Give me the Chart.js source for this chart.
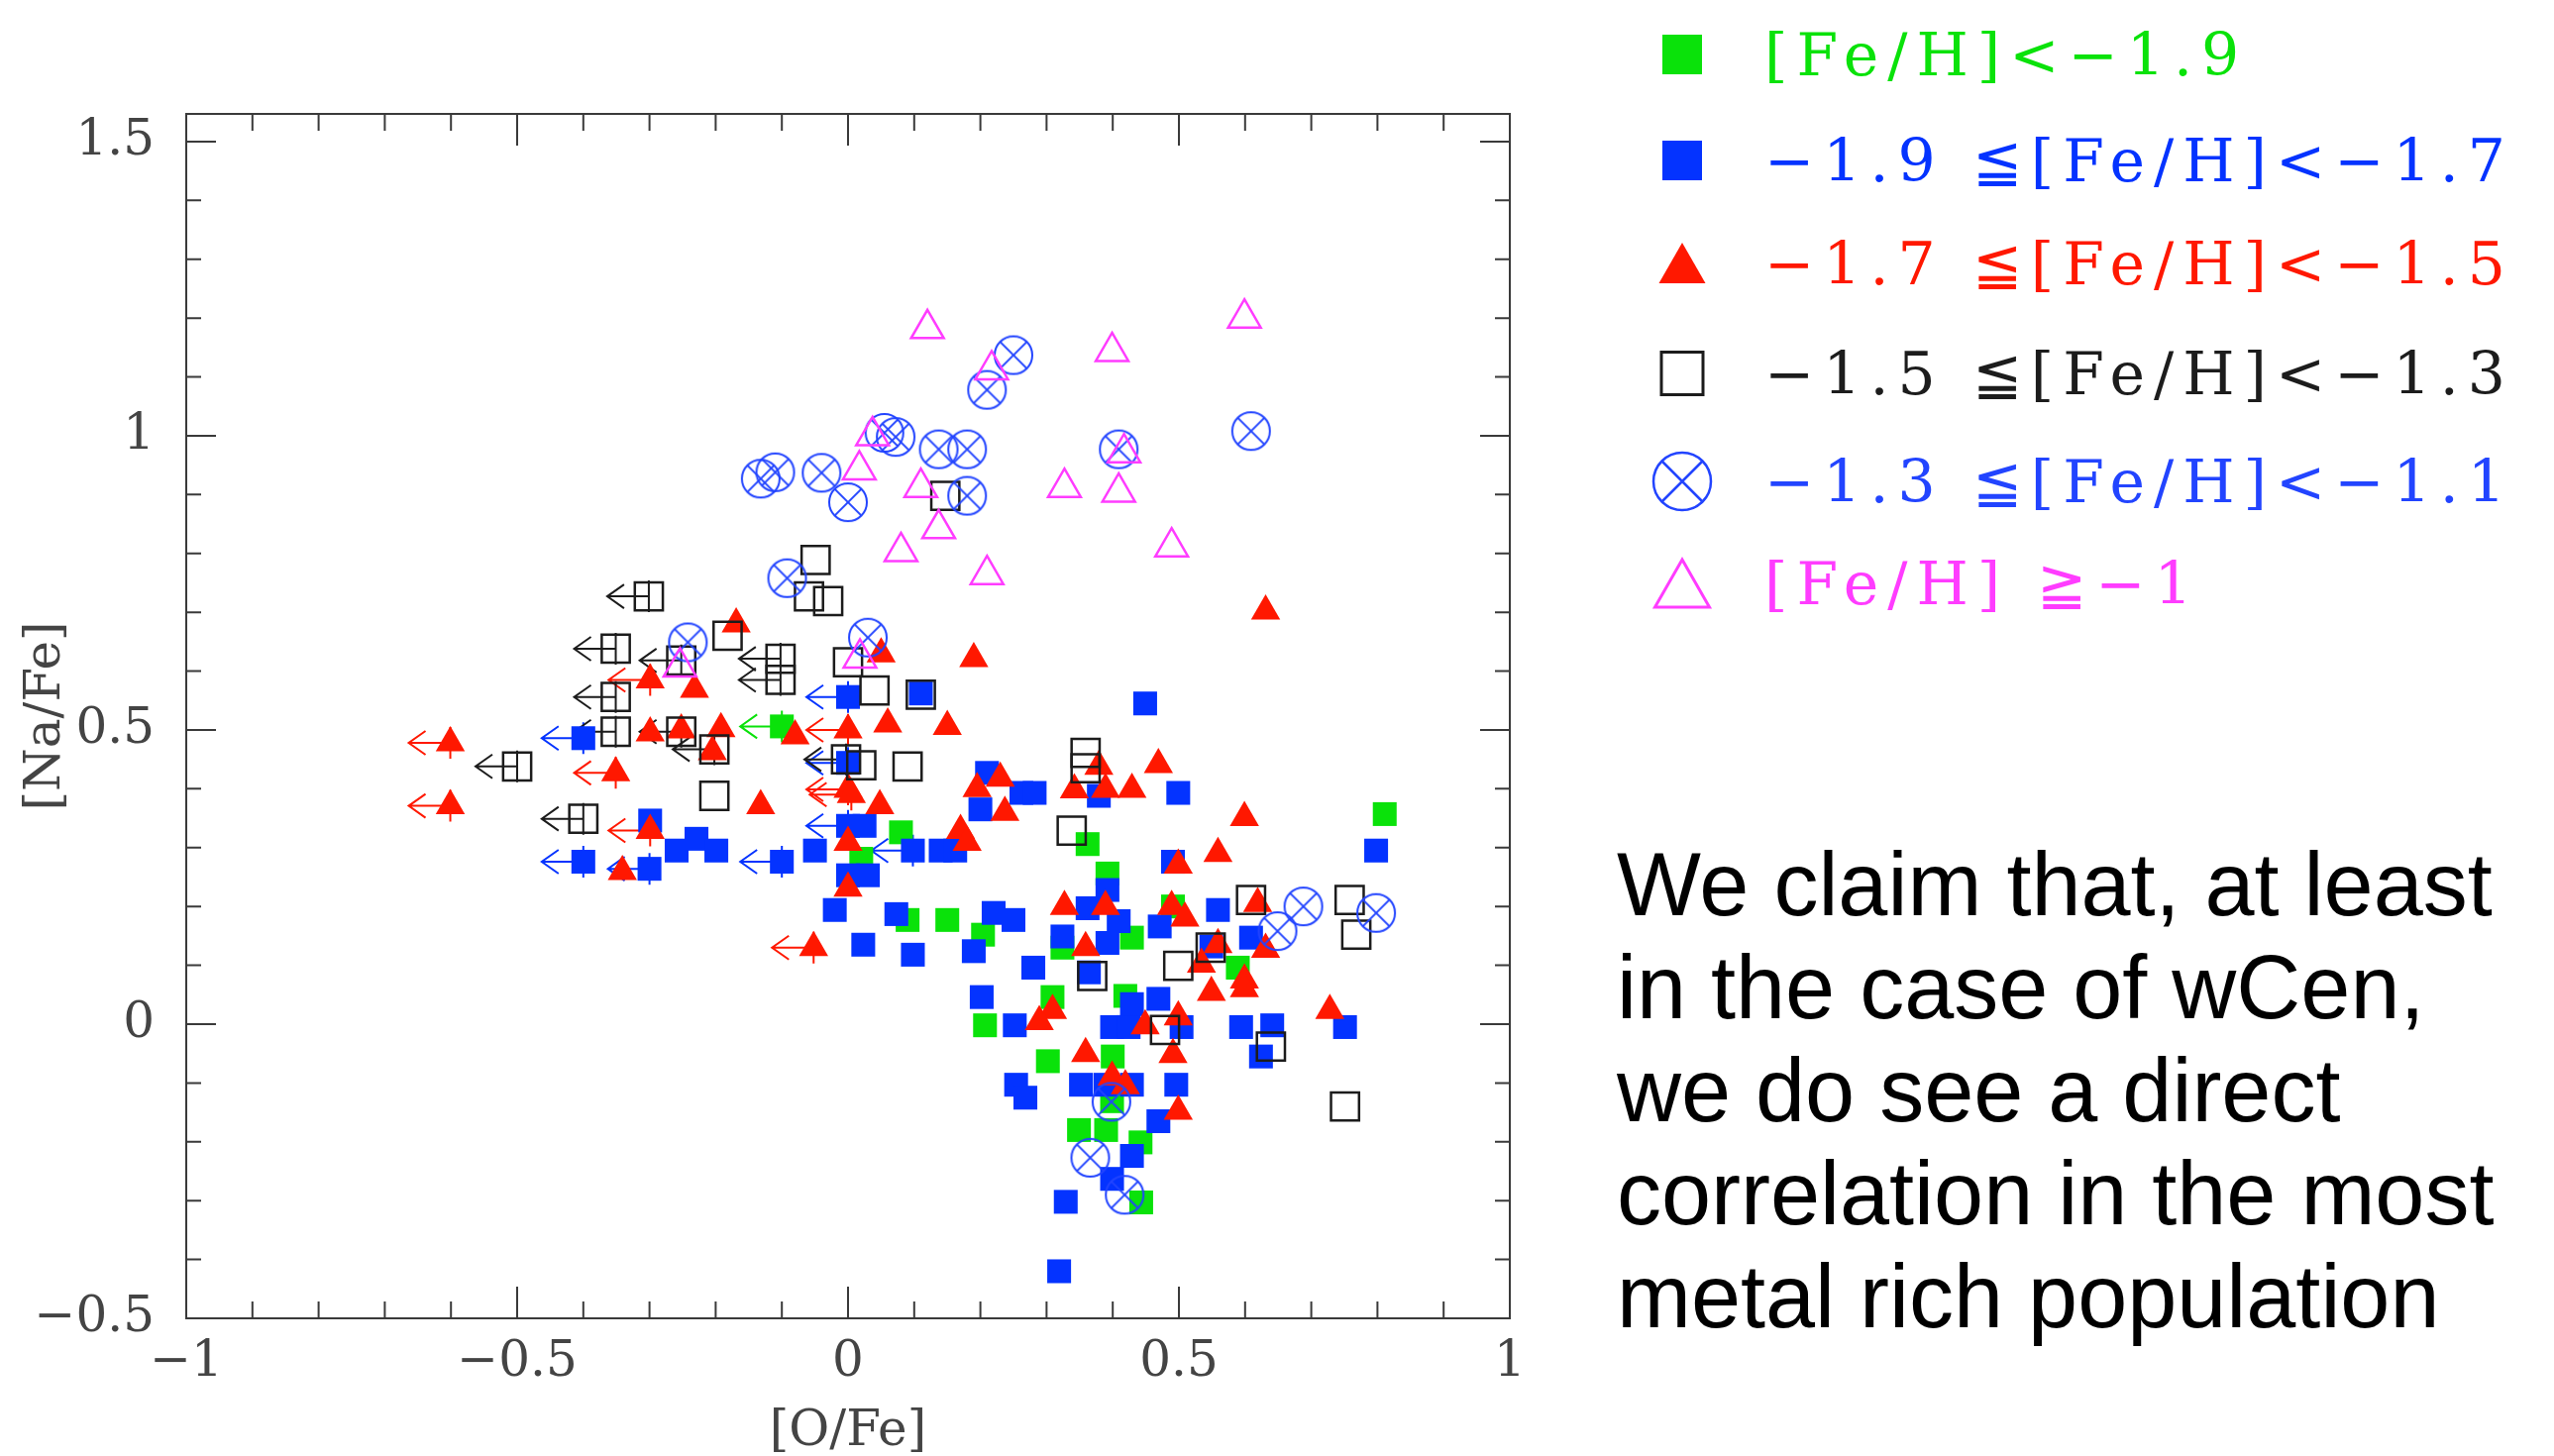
<!DOCTYPE html>
<html>
<head>
<meta charset="utf-8">
<title>[Na/Fe] vs [O/Fe] in wCen</title>
<script src="https://cdn.jsdelivr.net/npm/chart.js@4.4.1/dist/chart.umd.min.js"></script>
<style>
  html, body { margin: 0; padding: 0; background: #fff; }
  body { width: 2578px; height: 1470px; position: relative; overflow: hidden; }
  #plot { position: absolute; left: 0; top: 0; }
  .key { position: absolute; left: 1648px; height: 0; display: flex; align-items: center; }
  .key svg { width: 100px; height: 70px; flex: none; }
  .key span { margin-left: 33px; font-family: "DejaVu Serif", serif; font-size: 60px; letter-spacing: 9px; white-space: nowrap; }
  #note { position: absolute; left: 1632px; top: 841px; font-family: "Liberation Sans", Arial, sans-serif; font-size: 90px; line-height: 104px; color: #000; white-space: nowrap; }
</style>
</head>
<body>
<canvas id="plot" width="1600" height="1470"></canvas>
<div id="legend"></div>
<div id="note">We claim that, at least<br>in the case of wCen,<br>we do see a direct<br>correlation in the most<br>metal rich population</div>

<script>
// [O/Fe], [Na/Fe] pairs, one group per [Fe/H] bin
// "Lim" arrays are upper limits in [O/Fe] (drawn with a leftward arrow)
var feBelow19 = [
  [0.080, 0.326], [0.090, 0.177], [0.150, 0.177], [0.204, 0.152], [0.020, 0.281],
  [0.362, 0.306], [0.392, 0.256], [0.429, 0.147], [0.491, 0.200], [0.589, 0.096],
  [0.811, 0.357], [0.309, 0.046], [0.419, 0.048], [0.207, -0.002], [0.302, -0.063],
  [0.400, -0.055], [0.349, -0.180], [0.390, -0.180], [0.442, -0.201], [0.443, -0.303],
  [0.399, -0.131], [0.324, 0.130]
];
var feBelow19Lim = [[-0.100, 0.506]];

var fe19to17 = [
  [0.110, 0.562], [0.449, 0.545], [-0.299, 0.346], [-0.259, 0.295], [-0.229, 0.315],
  [-0.199, 0.295], [-0.050, 0.295], [0.025, 0.337], [0.000, 0.253], [0.030, 0.253],
  [-0.020, 0.194], [0.073, 0.187], [0.023, 0.135], [0.098, 0.118], [0.140, 0.295],
  [0.162, 0.295], [0.210, 0.427], [0.200, 0.365], [0.262, 0.393], [0.282, 0.393],
  [0.379, 0.388], [0.499, 0.393], [0.220, 0.189], [0.250, 0.177], [0.190, 0.124],
  [0.280, 0.096], [0.324, 0.149], [0.362, 0.197], [0.392, 0.228], [0.409, 0.175],
  [0.392, 0.138], [0.364, 0.088], [0.491, 0.276], [0.471, 0.166], [0.559, 0.194],
  [0.549, 0.132], [0.609, 0.147], [0.798, 0.295], [0.202, 0.046], [0.252, -0.002],
  [0.399, -0.005], [0.424, -0.005], [0.429, 0.034], [0.469, 0.043], [0.504, -0.005],
  [0.594, -0.005], [0.641, -0.002], [0.624, -0.055], [0.751, -0.005], [0.254, -0.103],
  [0.268, -0.125], [0.352, -0.103], [0.389, -0.103], [0.429, -0.103], [0.496, -0.103],
  [0.469, -0.165], [0.429, -0.224], [0.399, -0.263], [0.329, -0.302], [0.319, -0.420]
];
var fe19to17Lim = [
  [-0.400, 0.486], [0.000, 0.556], [-0.400, 0.276], [-0.300, 0.264],
  [-0.100, 0.276], [0.000, 0.444], [0.000, 0.337], [0.098, 0.295]
];

var fe17to15 = [
  [-0.169, 0.680], [-0.232, 0.569], [-0.299, 0.495], [-0.252, 0.500], [-0.192, 0.502],
  [-0.205, 0.463], [-0.080, 0.490], [0.060, 0.510], [0.050, 0.629], [-0.132, 0.371],
  [0.048, 0.371], [-0.341, 0.259], [0.190, 0.621], [0.150, 0.506], [0.631, 0.702],
  [0.469, 0.441], [0.379, 0.438], [0.195, 0.400], [0.230, 0.418], [0.342, 0.398],
  [0.389, 0.399], [0.429, 0.399], [0.237, 0.360], [0.170, 0.329], [0.180, 0.309],
  [0.599, 0.351], [0.000, 0.309], [0.000, 0.231], [0.499, 0.270], [0.559, 0.290],
  [0.619, 0.205], [0.489, 0.200], [0.509, 0.180], [0.327, 0.200], [0.389, 0.200],
  [0.359, 0.130], [0.559, 0.135], [0.534, 0.102], [0.631, 0.127], [0.599, 0.075],
  [0.599, 0.060], [0.549, 0.054], [0.728, 0.023], [0.309, 0.023], [0.289, 0.004],
  [0.449, -0.003], [0.499, 0.012], [0.359, -0.050], [0.491, -0.052], [0.399, -0.090],
  [0.419, -0.105], [0.499, -0.148]
];
var fe17to15Lim = [
  [-0.601, 0.478], [-0.601, 0.371], [-0.351, 0.427], [-0.299, 0.585], [-0.299, 0.329],
  [0.000, 0.500], [0.000, 0.399], [0.005, 0.390], [-0.052, 0.130]
];

var fe15to13 = [
  [0.000, 0.615], [0.040, 0.567], [0.110, 0.560], [0.090, 0.438], [0.020, 0.440],
  [-0.202, 0.388], [-0.049, 0.789], [-0.059, 0.727], [-0.030, 0.719], [-0.182, 0.660],
  [0.147, 0.898], [0.359, 0.461], [0.359, 0.435], [0.338, 0.329], [0.609, 0.211],
  [0.758, 0.211], [0.768, 0.152], [0.548, 0.130], [0.499, 0.099], [0.369, 0.082],
  [0.479, -0.010], [0.639, -0.038], [0.751, -0.140]
];
var fe15to13Lim = [
  [-0.301, 0.727], [-0.351, 0.638], [-0.252, 0.618], [-0.351, 0.556], [-0.351, 0.497],
  [-0.252, 0.497], [-0.102, 0.621], [-0.102, 0.585], [-0.500, 0.438], [-0.202, 0.467],
  [-0.400, 0.349], [-0.003, 0.450]
];

var fe13to11 = [
  [-0.132, 0.927], [-0.110, 0.938], [-0.040, 0.937], [0.000, 0.887], [0.055, 1.005],
  [0.072, 0.998], [-0.092, 0.758], [-0.242, 0.649], [0.030, 0.657], [0.250, 1.137],
  [0.210, 1.078], [0.137, 0.977], [0.180, 0.977], [0.409, 0.977], [0.609, 1.008],
  [0.180, 0.898], [0.688, 0.200], [0.649, 0.158], [0.798, 0.189], [0.398, -0.132],
  [0.366, -0.227], [0.418, -0.290]
];

var feAbove1 = [
  [0.120, 1.182], [0.599, 1.200], [0.399, 1.143], [0.217, 1.112], [0.417, 0.971],
  [0.037, 1.000], [0.017, 0.942], [0.110, 0.912], [0.327, 0.912], [0.409, 0.904],
  [0.137, 0.842], [0.080, 0.803], [0.489, 0.811], [0.210, 0.764], [-0.254, 0.607],
  [0.018, 0.622]
];

var groupNames = [
  "[Fe/H]<\u22121.9",
  "\u22121.9 \u2266[Fe/H]<\u22121.7",
  "\u22121.7 \u2266[Fe/H]<\u22121.5",
  "\u22121.5 \u2266[Fe/H]<\u22121.3",
  "\u22121.3 \u2266[Fe/H]<\u22121.1",
  "[Fe/H] \u2267\u22121"
];

var GREEN = "#0ae20a", BLUE = "#0433ff", RED = "#ff1800", BLACK = "#1c1c1c",
    CBLUE = "#2244ff", MAGENTA = "#ff3cff";
var groupColors = [GREEN, BLUE, RED, BLACK, CBLUE, MAGENTA];

function points(plain, limits) {
  var out = plain.map(function (p) { return {x: p[0], y: p[1]}; });
  (limits || []).forEach(function (p) { out.push({x: p[0], y: p[1], lim: true}); });
  return out;
}

// circle with an x inside, used as a point style
function circleCross(color) {
  var c = document.createElement("canvas");
  c.width = 44; c.height = 44;
  var g = c.getContext("2d");
  g.strokeStyle = color;
  g.lineWidth = 2;
  g.beginPath();
  g.arc(22, 22, 19, 0, Math.PI * 2);
  g.moveTo(22 - 13.4, 22 - 13.4); g.lineTo(22 + 13.4, 22 + 13.4);
  g.moveTo(22 + 13.4, 22 - 13.4); g.lineTo(22 - 13.4, 22 + 13.4);
  g.stroke();
  return c;
}

// html legend
var keyMarks = [
  '<rect x="30" y="15" width="40" height="40" fill="' + GREEN + '"/>',
  '<rect x="30" y="15" width="40" height="40" fill="' + BLUE + '"/>',
  '<polygon points="50,14 73.5,55 26.5,55" fill="' + RED + '"/>',
  '<rect x="29" y="13.5" width="42" height="43" fill="none" stroke="' + BLACK + '" stroke-width="3"/>',
  '<circle cx="50" cy="35" r="29" fill="none" stroke="' + CBLUE + '" stroke-width="2.5"/>' +
    '<path d="M29.5 14.5 L70.5 55.5 M70.5 14.5 L29.5 55.5" stroke="' + CBLUE + '" stroke-width="2.5"/>',
  '<polygon points="50,11 77.5,59 22.5,59" fill="none" stroke="' + MAGENTA + '" stroke-width="3"/>'
];
var keyRows = [55, 162, 266, 377, 486, 589];
var legendEl = document.getElementById("legend");
groupNames.forEach(function (name, i) {
  var row = document.createElement("div");
  row.className = "key";
  row.style.top = keyRows[i] + "px";
  row.innerHTML = '<svg viewBox="0 0 100 70">' + keyMarks[i] + '</svg><span style="color:' +
    groupColors[i] + '">' + name + '</span>';
  legendEl.appendChild(row);
});

// frame with inward major/minor ticks on all four sides
var frameTicks = {
  id: "frameTicks",
  afterDatasetsDraw: function (chart) {
    var ctx = chart.ctx, a = chart.chartArea, x = chart.scales.x, y = chart.scales.y;
    ctx.save();
    ctx.strokeStyle = "#3a3a3a";
    ctx.lineWidth = 2;
    ctx.strokeRect(a.left, a.top, a.right - a.left, a.bottom - a.top);
    ctx.beginPath();
    for (var i = -10; i <= 10; i++) {
      var px = x.getPixelForValue(i / 10);
      var lx = i % 5 === 0 ? 32 : 17;
      ctx.moveTo(px, a.bottom); ctx.lineTo(px, a.bottom - lx);
      ctx.moveTo(px, a.top); ctx.lineTo(px, a.top + lx);
    }
    for (var j = -5; j <= 15; j++) {
      var py = y.getPixelForValue(j / 10);
      var ly = j % 5 === 0 ? 30 : 15;
      ctx.moveTo(a.left, py); ctx.lineTo(a.left + ly, py);
      ctx.moveTo(a.right, py); ctx.lineTo(a.right - ly, py);
    }
    ctx.stroke();
    ctx.restore();
  }
};

// leftward arrows for the [O/Fe] upper limits
var upperLimits = {
  id: "upperLimits",
  beforeDatasetsDraw: function (chart) {
    var ctx = chart.ctx, x = chart.scales.x, y = chart.scales.y;
    ctx.save();
    ctx.lineWidth = 2;
    chart.data.datasets.forEach(function (ds) {
      if (!ds.limitColor) return;
      ctx.strokeStyle = ds.limitColor;
      ctx.beginPath();
      ds.data.forEach(function (p) {
        if (!p.lim) return;
        var px = x.getPixelForValue(p.x), py = y.getPixelForValue(p.y);
        var tip = px - 42;
        ctx.moveTo(px, py - 16); ctx.lineTo(px, py + 16);
        ctx.moveTo(px, py); ctx.lineTo(tip, py);
        ctx.moveTo(tip + 17, py - 12); ctx.lineTo(tip, py); ctx.lineTo(tip + 17, py + 12);
      });
      ctx.stroke();
    });
    ctx.restore();
  }
};

function fmt(v) {
  return v === 0 ? "0" : String(v).replace("-", "\u2212");
}

var tickFont = {family: "'DejaVu Serif', serif", size: 50};

var chart = new Chart(document.getElementById("plot"), {
  type: "scatter",
  data: {
    datasets: [
      {label: groupNames[0], data: points(feBelow19, feBelow19Lim), pointStyle: "rect",
       pointRadius: 17, pointBackgroundColor: GREEN, pointBorderWidth: 0, limitColor: GREEN, order: 6},
      {label: groupNames[1], data: points(fe19to17, fe19to17Lim), pointStyle: "rect",
       pointRadius: 17, pointBackgroundColor: BLUE, pointBorderWidth: 0, limitColor: BLUE, order: 5},
      {label: groupNames[2], data: points(fe17to15, fe17to15Lim), pointStyle: "triangle",
       pointRadius: 17, pointBackgroundColor: RED, pointBorderWidth: 0, limitColor: RED, order: 4},
      {label: groupNames[3], data: points(fe15to13, fe15to13Lim), pointStyle: "rect",
       pointRadius: 20, pointBackgroundColor: "rgba(0,0,0,0)", pointBorderColor: BLACK,
       pointBorderWidth: 2.5, limitColor: BLACK, order: 3},
      {label: groupNames[4], data: points(fe13to11), pointStyle: circleCross(CBLUE),
       pointRadius: 20, order: 2},
      {label: groupNames[5], data: points(feAbove1), pointStyle: "triangle",
       pointRadius: 19, pointBackgroundColor: "rgba(0,0,0,0)", pointBorderColor: MAGENTA,
       pointBorderWidth: 2.5, order: 1}
    ]
  },
  options: {
    responsive: false,
    animation: false,
    events: [],
    layout: {padding: {left: 0, right: 76, top: 115, bottom: 0}},
    plugins: {legend: {display: false}, tooltip: {enabled: false}},
    scales: {
      x: {
        type: "linear", min: -1, max: 1,
        grid: {display: false, drawTicks: false},
        border: {display: false},
        ticks: {stepSize: 0.5, includeBounds: false, autoSkip: false, maxRotation: 0,
                padding: 15, color: "#444", font: tickFont, callback: fmt},
        title: {display: true, text: "[O/Fe]", color: "#444", font: tickFont,
                padding: {top: 0, bottom: -6}},
        afterFit: function (s) { s.height = 139; }
      },
      y: {
        type: "linear", min: -0.5, max: 1.547,
        grid: {display: false, drawTicks: false},
        border: {display: false},
        ticks: {stepSize: 0.5, includeBounds: false, autoSkip: false,
                padding: 32, color: "#444", font: tickFont, callback: fmt},
        title: {display: true, text: "[Na/Fe]", color: "#444", font: tickFont,
                padding: {top: 17, bottom: 0}},
        afterFit: function (s) { s.width = 188; }
      }
    }
  },
  plugins: [upperLimits, frameTicks]
});
</script>
</body>
</html>
